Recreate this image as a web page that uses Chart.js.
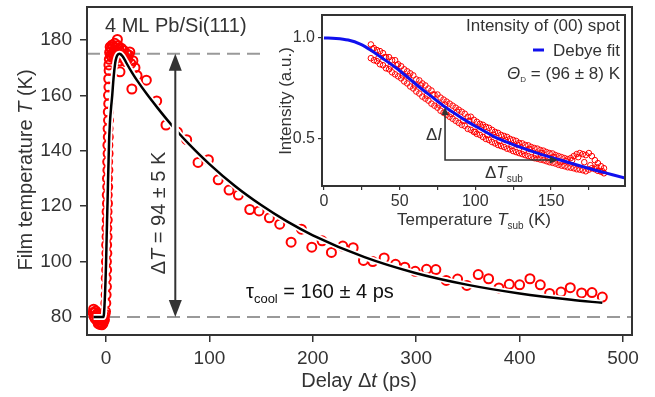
<!DOCTYPE html>
<html><head><meta charset="utf-8">
<script src="https://cdn.jsdelivr.net/npm/chart.js@4.4.0/dist/chart.umd.min.js"></script>
<style>
html,body{margin:0;padding:0;background:#fff;}
#wrap{position:relative;width:655px;height:397px;overflow:hidden;}
#main{position:absolute;left:0;top:0;width:655px;height:397px;}
#inset{position:absolute;left:270px;top:0;width:375px;height:235px;}
</style></head><body>
<div id="wrap"><canvas id="main" width="655" height="397"></canvas><canvas id="inset" width="375" height="235"></canvas></div>
<script>
// ---------------- main chart data (delay in ps, film temperature in K) ----------------
const baseDelay = [-12.5,-12,-11.5,-11,-10.5,-10,-9.5,-9,-8.5,-8,-7.5,-7,-6.5,-6,-5.5,-5,-4.5,-4,-3.5,-3,-2.5,-2,-1.5,-1];
const baseTemp  = [81.5,82.8,80.2,81.6,79.4,82.2,80.6,78.8,81.2,79.6,77.6,80.4,78.2,77.3,79.5,77.8,78.9,77.2,79.1,77.6,78.4,80.3,79.0,81.0];
const riseDelay = [-0.5,-0.2,0.1,0.4,0.2,0.6,0.4,0.8,0.6,1.0,0.8,1.2,1.0,1.4,1.2,1.6,1.4,1.8,1.6,2.0,1.8,2.2,2.0,2.4,2.2,2.6,2.4,2.8,2.6,3.0,2.8,3.2];
const riseTemp  = [82,85,88,91,94,97,100,103,106,109,112,115,118,121,124,127,130,133,136,139,142,145,148,151,154,157,160,163,166,169,171,173];
const peakDelay = [3.5,4,4.5,5,5.5,6,6.5,7,7.5,8,8.5,9,9.5,10,10.5,11,11.5,12,12.5,13,13.5,14,15,16,17,18,19,20,21,22,23,24,25,26,28,30];
const peakTemp  = [175.5,177.5,174.5,176.8,173.8,178.2,175.2,177.6,174.2,176.4,178.8,175.6,177.2,173.4,176,180.2,178,174.6,176.8,172.4,168.5,175.4,177,173.6,176.2,174,172.2,175,173,174.6,175.7,171.5,162.3,172.5,170,167.2];
const decayDelay = [39,49,58,69,78,89,99,108.5,119,128,139,148,158,168,179,189,199,209,218,229,239,249,258,269,280,289,299,310,319,329,340,349,360,370,380,390,400,410,420,429,440,449,460,470,480];
const decayTemp  = [165.5,158,149.3,146.8,144,135.8,136.8,129.5,125.8,124,118.8,118.3,115.8,113.5,107,111.7,105.2,107.5,103.3,105.6,105,100.4,100,101.3,99,98,96.5,97.2,97.1,93.2,93.7,91.4,95.3,93.8,90.5,91.8,91.6,93.8,91.6,88.5,89,90.6,88.7,88.8,87.2];
// fit curve
const fitDelay = [-12,-2.5,-2,-1.5,-1,-0.5,0,0.5,1,1.5,2,2.5,3,3.5,4,5,6,7,8,9,10,11,12,13,14,16,18,20,25,30,40,50,60,70,80,100,125,150,175,200,250,300,350,400,450,480];
const fitTemp  = [80,80,81,84,88,93,99,107,115,122,130,137,144,148,151.5,156,160,165,169,172,173.6,174.5,174.9,175,174.9,174.1,172.9,171.5,168.3,165.4,160.2,155.4,150.8,146.5,142.5,135.2,127.2,120.4,114.5,109.5,101.6,95.8,91.6,88.5,86.2,85.1];
const baseLevel = 80, peakLevel = 175, peakLineEnd = 152, arrowDelay = 67;
const mainXTicks = [0,100,200,300,400,500];
const mainYTicks = [80,100,120,140,160,180];
const mainXMin = -18.4, mainXMax = 508.7, mainYMin = 73.5, mainYMax = 191.9;

// ---------------- inset data (substrate temperature in K, intensity a.u.) ----------------
const insetTempA = [31,33,35,37,39,41,43,45,47,49,51,53,55,57,59,61,63,65,67,69,71,73,75,77,79,81,83,85,87,89,91,93,95,97,99,101,103,105,107,109,111,113,115,117,119,121,123,125,127,129,131,133,135,137,139,141,143,145,147,149,151,153,155,157,159,161,163,165,167,169,171,173,175,177,179,181,183,185];
const insetIntUp = [0.968,0.95,0.94,0.935,0.925,0.905,0.905,0.89,0.89,0.87,0.86,0.845,0.835,0.825,0.815,0.795,0.79,0.775,0.765,0.75,0.74,0.72,0.72,0.705,0.695,0.685,0.675,0.665,0.655,0.645,0.635,0.625,0.61,0.61,0.595,0.585,0.575,0.57,0.56,0.555,0.545,0.535,0.53,0.52,0.515,0.51,0.5,0.495,0.49,0.48,0.478,0.47,0.468,0.46,0.455,0.452,0.445,0.442,0.435,0.43,0.428,0.42,0.415,0.41,0.405,0.4,0.405,0.415,0.425,0.43,0.425,0.42,0.43,0.415,0.395,0.38,0.365,0.355];
const insetIntLow = [0.9,0.89,0.885,0.87,0.865,0.85,0.845,0.83,0.82,0.81,0.8,0.785,0.775,0.76,0.75,0.735,0.725,0.71,0.7,0.69,0.675,0.665,0.655,0.64,0.63,0.62,0.61,0.6,0.59,0.58,0.57,0.565,0.55,0.545,0.535,0.525,0.52,0.51,0.5,0.495,0.485,0.478,0.47,0.465,0.46,0.452,0.448,0.44,0.435,0.43,0.425,0.42,0.415,0.41,0.405,0.402,0.398,0.395,0.39,0.385,0.382,0.378,0.372,0.368,0.365,0.36,0.358,0.355,0.35,0.348,0.345,0.34,0.348,0.355,0.35,0.342,0.338,0.33];
const insetTempB = [32,36,40,44,48,52,56,60,64,68,72,76,80,84,88,92,96,100,104,108,112,116,120,124,128,132,136,140,144,148,152,156,160,164,168,172,176,180,184];
const insetIntMid = [0.945,0.9,0.905,0.86,0.865,0.815,0.81,0.765,0.765,0.715,0.72,0.67,0.67,0.625,0.635,0.59,0.59,0.535,0.56,0.52,0.52,0.49,0.495,0.465,0.47,0.44,0.45,0.42,0.43,0.405,0.41,0.385,0.39,0.395,0.41,0.385,0.37,0.36,0.34];
const debyeTemp = [0,8,16,24,32,40,48,56,64,72,80,88,96,104,112,120,130,140,150,160,170,180,190,199];
const debyeInt  = [1.0,0.998,0.99,0.97,0.935,0.893,0.85,0.801,0.751,0.705,0.658,0.619,0.581,0.547,0.513,0.487,0.458,0.432,0.409,0.387,0.365,0.344,0.324,0.306];
const triT1 = 80, triT2 = 154.6, triI1 = 0.396, triI2 = 0.658;
const insetXTicks = [0,25,50,75,100,125,150,175];
const insetYTicks = [0.5,1.0];
const insetXMin = -1.3, insetXMax = 198.9, insetYMin = 0.267, insetYMax = 1.114;

// ---------------- helpers ----------------
const FAM = "'Liberation Sans', Arial, Helvetica, sans-serif";
const pts = (xs, ys) => xs.map((x, i) => ({x, y: ys[i]}));
function drawRich(ctx, parts, x, y, align, size, color, rot) {
  ctx.save();
  ctx.translate(x, y);
  if (rot) ctx.rotate(rot);
  const fontFor = p => (p.i ? 'italic ' : '') + (p.s || size) + 'px ' + FAM;
  let total = 0; const w = [];
  parts.forEach(p => { ctx.font = fontFor(p); const m = ctx.measureText(p.t).width; w.push(m); total += m; });
  let cx = align === 'center' ? -total / 2 : align === 'right' ? -total : 0;
  ctx.fillStyle = color; ctx.textBaseline = 'alphabetic'; ctx.textAlign = 'left';
  parts.forEach((p, i) => { ctx.font = fontFor(p); ctx.fillText(p.t, cx, p.dy || 0); cx += w[i]; });
  ctx.restore();
}
function head(ctx, x, y, dx, dy, len, half) {
  const px = -dy, py = dx;
  ctx.beginPath();
  ctx.moveTo(x, y);
  ctx.lineTo(x - dx * len + px * half, y - dy * len + py * half);
  ctx.lineTo(x - dx * len - px * half, y - dy * len - py * half);
  ctx.closePath();
  ctx.fill();
}
const noPadY = (w) => s => { s.width = w; s.paddingTop = 0; s.paddingBottom = 0; };
const noPadX = (h) => s => { s.height = h; s.paddingLeft = 0; s.paddingRight = 0; };

const mainPlugin = {
  id: 'mainDeco',
  afterDatasetsDraw(chart) {
    const ctx = chart.ctx, xs = chart.scales.x, ys = chart.scales.y;
    const ax = xs.getPixelForValue(arrowDelay);
    const yt = ys.getPixelForValue(peakLevel), yb = ys.getPixelForValue(baseLevel);
    ctx.save();
    ctx.lineCap = 'butt';
    ctx.strokeStyle = '#fff'; ctx.lineWidth = 7;
    ctx.beginPath(); ctx.moveTo(ax, yt + 14); ctx.lineTo(ax, yb - 14); ctx.stroke();
    ctx.strokeStyle = '#333'; ctx.fillStyle = '#333'; ctx.lineWidth = 2;
    ctx.beginPath(); ctx.moveTo(ax, yt + 12); ctx.lineTo(ax, yb - 12); ctx.stroke();
    head(ctx, ax, yt, 0, -1, 17, 6.5);
    head(ctx, ax, yb, 0, 1, 17, 6.5);
    ctx.restore();
  },
  afterDraw(chart) {
    const ctx = chart.ctx, a = chart.chartArea;
    ctx.save();
    ctx.strokeStyle = '#333'; ctx.lineWidth = 2;
    ctx.strokeRect(a.left, a.top, a.right - a.left, a.bottom - a.top);
    ctx.restore();
    drawRich(ctx, [{t: '4 ML Pb/Si(111)'}], 105, 31.5, 'left', 20, '#333');
    drawRich(ctx, [{t: '\u0394'}, {t: 'T', i: 1}, {t: ' = 94 \u00b1 5 K'}], 165, 213, 'center', 20, '#333', -Math.PI / 2);
    drawRich(ctx, [{t: 'Film temperature '}, {t: 'T', i: 1}, {t: ' (K)'}], 32, 170, 'center', 20, '#333', -Math.PI / 2);
    drawRich(ctx, [{t: 'Delay \u0394'}, {t: 't', i: 1}, {t: ' (ps)'}], 359, 387, 'center', 20, '#333');
    drawRich(ctx, [{t: '\u03c4'}, {t: 'cool', s: 13, dy: 5}, {t: ' = 160 \u00b1 4 ps'}], 246, 298, 'left', 20, '#111');
  }
};

const insetPlugin = {
  id: 'insetDeco',
  beforeDraw(chart) {
    const ctx = chart.ctx, a = chart.chartArea;
    ctx.save(); ctx.fillStyle = '#fff';
    ctx.fillRect(a.left, a.top, a.right - a.left, a.bottom - a.top);
    ctx.restore();
  },
  afterDatasetsDraw(chart) {
    const ctx = chart.ctx, xs = chart.scales.x, ys = chart.scales.y;
    const x1 = xs.getPixelForValue(triT1), x2 = xs.getPixelForValue(triT2);
    const y1 = ys.getPixelForValue(triI1), y2 = ys.getPixelForValue(triI2);
    ctx.save();
    ctx.strokeStyle = '#333'; ctx.fillStyle = '#333'; ctx.lineWidth = 1.6;
    ctx.beginPath(); ctx.moveTo(x1, y2 + 6); ctx.lineTo(x1, y1); ctx.lineTo(x2 - 6, y1); ctx.stroke();
    head(ctx, x1, y2, 0, -1, 8, 3.5);
    head(ctx, x2, y1, 1, 0, 8, 3.5);
    ctx.restore();
  },
  afterDraw(chart) {
    const ctx = chart.ctx, a = chart.chartArea;
    ctx.save();
    ctx.strokeStyle = '#333'; ctx.lineWidth = 2;
    ctx.strokeRect(a.left, a.top, a.right - a.left, a.bottom - a.top);
    ctx.strokeStyle = '#1010ee'; ctx.lineWidth = 3;
    ctx.beginPath(); ctx.moveTo(263, 50); ctx.lineTo(274, 50); ctx.stroke();
    ctx.restore();
    const R = a.right - 5;
    drawRich(ctx, [{t: 'Intensity of (00) spot'}], R, 31, 'right', 17, '#333');
    drawRich(ctx, [{t: 'Debye fit'}], R, 56, 'right', 17, '#333');
    drawRich(ctx, [{t: '\u0398', i: 1}, {t: 'D', s: 8, dy: 3}, {t: ' = (96 \u00b1 8) K'}], R, 79, 'right', 17, '#333');
    drawRich(ctx, [{t: '\u0394'}, {t: 'I', i: 1}], 172, 140, 'right', 17, '#333');
    drawRich(ctx, [{t: '\u0394'}, {t: 'T', i: 1}, {t: 'sub', s: 10, dy: 4}], 215, 178, 'left', 17, '#333');
    drawRich(ctx, [{t: 'Intensity (a.u.)'}], 21, 101, 'center', 17, '#333', -Math.PI / 2);
    drawRich(ctx, [{t: 'Temperature '}, {t: 'T', i: 1}, {t: 'sub', s: 10, dy: 4}, {t: ' (K)'}], 204, 225, 'center', 17, '#333');
  }
};

const redPts = (data, r, bw) => ({data, showLine: false, pointRadius: r, pointBorderWidth: bw, pointBorderColor: '#ff0000', pointBackgroundColor: 'rgba(0,0,0,0)', pointHoverRadius: r, order: 5});

new Chart(document.getElementById('main'), {
  type: 'line',
  data: {datasets: [
    {data: pts([mainXMin, mainXMax], [baseLevel, baseLevel]), borderColor: '#999', borderWidth: 2, borderDash: [13, 7], pointRadius: 0, order: 10},
    {data: pts([mainXMin, peakLineEnd], [peakLevel, peakLevel]), borderColor: '#999', borderWidth: 2, borderDash: [13, 7], pointRadius: 0, order: 10},
    redPts(pts(baseDelay, baseTemp), 4.5, 2),
    redPts(pts(riseDelay, riseTemp), 4.5, 2),
    redPts(pts(peakDelay, peakTemp), 4.5, 2),
    redPts(pts(decayDelay, decayTemp), 4.5, 2),
    {data: pts(fitDelay, fitTemp), borderColor: '#fff', borderWidth: 6, pointRadius: 0, cubicInterpolationMode: 'monotone', order: 2},
    {data: pts(fitDelay, fitTemp), borderColor: '#000', borderWidth: 2.5, pointRadius: 0, cubicInterpolationMode: 'monotone', order: 1}
  ]},
  options: {
    responsive: false, animation: false, devicePixelRatio: 1,
    layout: {padding: {left: 0, top: 7, right: 23, bottom: 0}},
    plugins: {legend: {display: false}, tooltip: {enabled: false}},
    events: [],
    scales: {
      x: {type: 'linear', min: mainXMin, max: mainXMax,
        afterBuildTicks: s => { s.ticks = mainXTicks.map(v => ({value: v})); },
        afterFit: noPadX(62),
        ticks: {font: {size: 19, family: FAM}, color: '#333', padding: 5, maxRotation: 0, autoSkip: false, callback: v => String(v)},
        grid: {drawOnChartArea: false, drawTicks: true, tickLength: 7, color: '#333', lineWidth: 1.5},
        border: {display: false}},
      y: {type: 'linear', min: mainYMin, max: mainYMax,
        afterBuildTicks: s => { s.ticks = mainYTicks.map(v => ({value: v})); },
        afterFit: noPadY(87),
        ticks: {font: {size: 19, family: FAM}, color: '#333', padding: 8, autoSkip: false, callback: v => String(v)},
        grid: {drawOnChartArea: false, drawTicks: true, tickLength: 7, color: '#333', lineWidth: 1.5},
        border: {display: false}}
    }
  },
  plugins: [mainPlugin]
});

new Chart(document.getElementById('inset'), {
  type: 'line',
  data: {datasets: [
    redPts(pts(insetTempA, insetIntUp), 2.8, 1),
    redPts(pts(insetTempA, insetIntLow), 2.8, 1),
    redPts(pts(insetTempB, insetIntMid), 2.8, 1),
    {data: pts(debyeTemp, debyeInt), borderColor: '#1010ee', borderWidth: 3, pointRadius: 0, cubicInterpolationMode: 'monotone', order: 1}
  ]},
  options: {
    responsive: false, animation: false, devicePixelRatio: 1,
    layout: {padding: {left: 0, top: 15, right: 20, bottom: 0}},
    plugins: {legend: {display: false}, tooltip: {enabled: false}},
    events: [],
    scales: {
      x: {type: 'linear', min: insetXMin, max: insetXMax,
        afterBuildTicks: s => { s.ticks = insetXTicks.map(v => ({value: v})); },
        afterFit: noPadX(49),
        ticks: {font: {size: 16, family: FAM}, color: '#333', padding: 2, maxRotation: 0, autoSkip: false, callback: v => (v % 50 === 0 ? String(v) : '')},
        grid: {drawOnChartArea: false, drawTicks: true, tickLength: 4, color: '#333', lineWidth: 1.2},
        border: {display: false}},
      y: {type: 'linear', min: insetYMin, max: insetYMax,
        afterBuildTicks: s => { s.ticks = insetYTicks.map(v => ({value: v})); },
        afterFit: noPadY(52),
        ticks: {font: {size: 16, family: FAM}, color: '#333', padding: 3, autoSkip: false, callback: v => v.toFixed(1)},
        grid: {drawOnChartArea: false, drawTicks: true, tickLength: 4, color: '#333', lineWidth: 1.2},
        border: {display: false}}
    }
  },
  plugins: [insetPlugin]
});
</script>
</body></html>
